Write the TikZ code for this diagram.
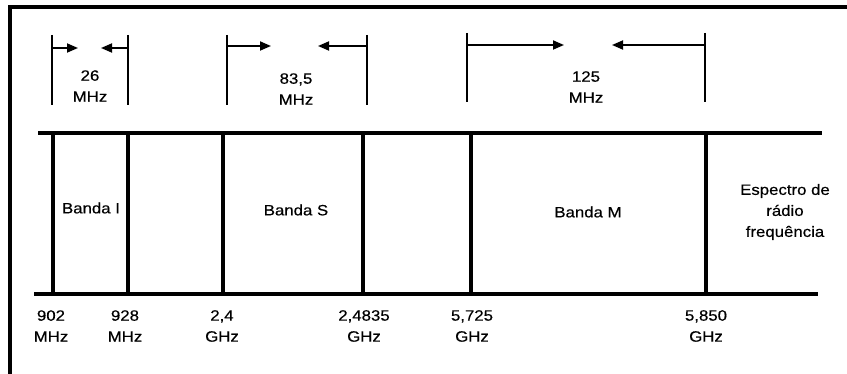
\documentclass[tikz,border=0pt]{standalone}
\usepackage{fontspec}
\setmainfont{Liberation Sans}[FakeStretch=1.12,FakeBold=0.4]
\usetikzlibrary{arrows.meta}
\begin{document}
\begin{tikzpicture}[x=1pt,y=-1pt,
  lbl/.style={font=\fontsize{15}{21}\selectfont, align=center, inner sep=0pt},
  frame/.style={line width=4pt},
  bandline/.style={line width=4pt},
  brk/.style={line width=2pt},
  arr/.style={line width=1.8pt,-{Triangle[length=11pt,width=9pt]}}]
\useasboundingbox (0,0) rectangle (847,374);
% frame (top and left)
\coordinate (fTL) at (10,7);
\coordinate (fTR) at (847,7);
\coordinate (fBL) at (10,374);
\draw[frame] (fTR) -- (fTL) -- (fBL);
% horizontal axis lines
\coordinate (hT1) at (38,133); \coordinate (hT2) at (822,133);
\coordinate (hB1) at (34,294); \coordinate (hB2) at (818,294);
\draw[bandline] (hT1) -- (hT2);
\draw[bandline] (hB1) -- (hB2);
% band separators
\foreach \n/\x in {a/53,b/128,c/223,d/363,e/471,f/706}{
  \coordinate (t\n) at (\x,133);
  \coordinate (b\n) at (\x,294);
  \draw[bandline] (t\n) -- (b\n);
}
% bracket markers with arrows
\foreach \n/\x/\yt/\yb/\ya/\xe in {
  p/52/35/105/48/78, q/128/35/105/48/101,
  r/227/35/105/46/271, s/367/35/105/46/318,
  u/467/33/102/45/564, v/705/33/102/45/612}{
  \coordinate (m\n1) at (\x,\yt);
  \coordinate (m\n2) at (\x,\yb);
  \coordinate (m\n3) at (\x,\ya);
  \coordinate (m\n4) at (\xe,\ya);
  \draw[brk] (m\n1) -- (m\n2);
  \draw[arr] (m\n3) -- (m\n4);
}
% width labels
\node[lbl] (w1) at (90,86) {26\\MHz};
\node[lbl] (w2) at (296,89) {83,5\\MHz};
\node[lbl] (w3) at (586,87) {125\\MHz};
% band labels
\node[lbl] (bI) at (91,208) {Banda I};
\node[lbl] (bS) at (296,210) {Banda S};
\node[lbl] (bM) at (588,212) {Banda M};
\node[lbl] (esp) at (785,212) {Espectro de\\rádio\\frequência};
% frequency labels
\node[lbl] (f1) at (51,326) {902\\MHz};
\node[lbl] (f2) at (125,326) {928\\MHz};
\node[lbl] (f3) at (222,326) {2,4\\GHz};
\node[lbl] (f4) at (364,326) {2,4835\\GHz};
\node[lbl] (f5) at (472,326) {5,725\\GHz};
\node[lbl] (f6) at (706,326) {5,850\\GHz};
\end{tikzpicture}
\end{document}
